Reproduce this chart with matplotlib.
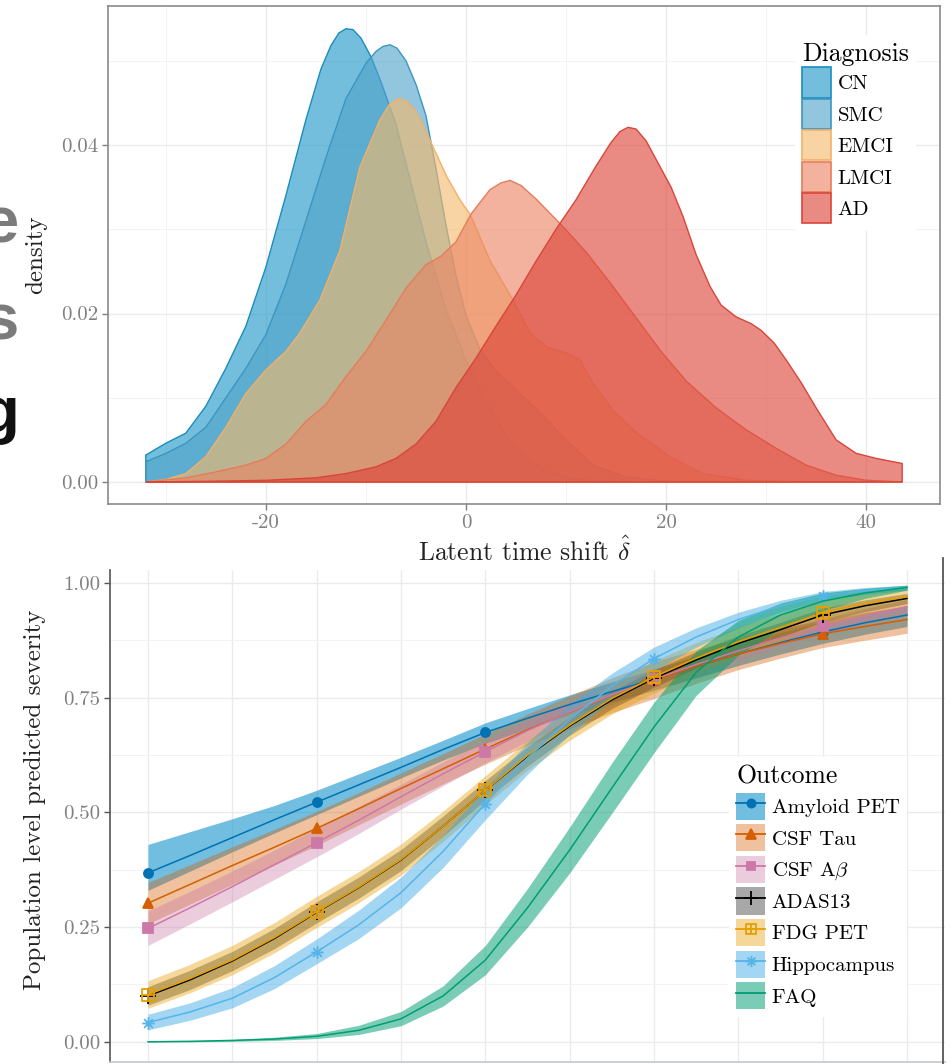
import numpy as np
import matplotlib
matplotlib.use('Agg')
import matplotlib.pyplot as plt
from matplotlib.patches import Patch
from matplotlib.lines import Line2D
from matplotlib.path import Path
from matplotlib.legend_handler import HandlerTuple
from matplotlib.colors import to_rgba

plt.rcParams['font.family'] = 'cmr10'
plt.rcParams['mathtext.fontset'] = 'cm'
plt.rcParams['axes.unicode_minus'] = False

# ---- top panel: density of latent time shift per diagnosis
diagnoses = ['CN', 'SMC', 'EMCI', 'LMCI', 'AD']

cn_x = [-32, -30, -28, -26, -24, -22, -20, -18, -16, -14.5, -13.5, -12.7, -12, -11.3, -10.5, -9.5,
        -8.5, -7, -5.5, -4, -2, 0, 2, 4, 6, 8, 11, 15, 20, 30, 43.6]
cn_d = [0.0032, 0.0046, 0.0058, 0.0090, 0.0135, 0.0185, 0.0255, 0.0340, 0.0430, 0.0490, 0.0518,
        0.0533, 0.0538, 0.0537, 0.0527, 0.0505, 0.0475, 0.0425, 0.0355, 0.0285, 0.0205, 0.0145,
        0.0095, 0.0055, 0.0028, 0.0012, 0.0003, 0.0001, 0.0, 0.0, 0.0]

smc_x = [-32, -30, -28, -26, -24, -22, -20, -18, -16, -14, -12, -10, -9, -8.3, -7.6, -6.9, -6, -5,
         -4, -3, -2, -1, 0, 1.4, 3, 4.7, 7.4, 10, 12.7, 16, 20, 30, 43.6]
smc_d = [0.0024, 0.0034, 0.0046, 0.0065, 0.0100, 0.0135, 0.0175, 0.0235, 0.0310, 0.0385, 0.0455,
         0.0497, 0.0511, 0.0517, 0.0519, 0.0515, 0.0500, 0.0472, 0.0435, 0.0372, 0.0305, 0.0245,
         0.0198, 0.0157, 0.0132, 0.0113, 0.0082, 0.0050, 0.0020, 0.0006, 0.0001, 0.0, 0.0]

emci_x = [-32, -30, -28, -26, -24, -22, -20, -18, -16.6, -14.6, -12.6, -10.6, -8.6, -7.6, -6.8,
          -6.0, -5.2, -4.4, -3.3, -1.9, -0.6, 0.4, 2.4, 4.7, 6.4, 8.1, 10.1, 11.4, 12.7, 14.7, 17.1,
          20.4, 23.7, 28, 35, 43.6]
emci_d = [0.0, 0.0003, 0.0010, 0.0030, 0.0065, 0.0105, 0.0133, 0.0155, 0.0177, 0.0216, 0.0275,
          0.0374, 0.0430, 0.0449, 0.0455, 0.0453, 0.0443, 0.0427, 0.0398, 0.0362, 0.0335, 0.0318,
          0.0263, 0.0216, 0.0177, 0.0160, 0.0153, 0.0145, 0.0117, 0.0085, 0.0058, 0.0030, 0.0010,
          0.0002, 0.0, 0.0]

lmci_x = [-32, -28, -25, -22, -20, -18, -16, -14, -12, -10, -8, -6, -4, -2.5, -1, 0.5, 2.4, 3.5,
          4.4, 5.5, 7, 9.7, 12, 14.5, 17, 19.5, 22, 25, 28, 31, 34, 37, 40, 43.6]
lmci_d = [0.0, 0.0005, 0.0012, 0.0020, 0.0028, 0.0045, 0.0072, 0.0092, 0.0125, 0.0155, 0.0192,
          0.0230, 0.0258, 0.0268, 0.0285, 0.0318, 0.0347, 0.0355, 0.0358, 0.0352, 0.0336, 0.0303,
          0.0273, 0.0235, 0.0195, 0.0155, 0.0120, 0.0088, 0.0062, 0.0040, 0.0020, 0.0008, 0.0002,
          0.0]

ad_x = [-32, -25, -20, -15, -12, -9, -7, -5, -3, -1, 1, 3, 5, 7, 9, 11, 13, 14.5, 15.4, 16.2, 17,
        18, 19, 20.5, 21.7, 23, 24.4, 25.5, 27, 28.5, 29.5, 30.8, 32, 33.5, 35, 37, 39, 41, 43.6]
ad_d = [0.0, 0.0001, 0.0002, 0.0005, 0.0010, 0.0018, 0.0028, 0.0045, 0.0072, 0.0112, 0.0147,
        0.0185, 0.0222, 0.0262, 0.0300, 0.0335, 0.0375, 0.0403, 0.0416, 0.0421, 0.0419, 0.0405,
        0.0383, 0.0350, 0.0315, 0.0270, 0.0232, 0.0210, 0.0196, 0.0188, 0.0180, 0.0165, 0.0145,
        0.0118, 0.0088, 0.0050, 0.0034, 0.0028, 0.0022]

dens_fill = ['#1F96C8', '#4FA3CB', '#F5B96B', '#EA8463', '#DC4238']
dens_edge = ['#1A8DBE', '#3C96C0', '#F2B068', '#E77C5A', '#D8463A']

# ---- bottom panel: population level predicted severity per outcome
outcomes = ['Amyloid PET', 'CSF Tau', r'CSF A$\beta$', 'ADAS13', 'FDG PET', 'Hippocampus', 'FAQ']

sev_x = [-32.0, -27.8, -23.6, -19.4, -15.2, -11.0, -6.8, -2.6, 1.6, 5.8, 10.0, 14.2, 18.4, 22.6,
         26.8, 31.0, 35.2, 39.4, 43.6]

amyloid = [0.368, 0.406, 0.445, 0.484, 0.522, 0.560, 0.598, 0.637, 0.674, 0.705, 0.735, 0.763,
           0.790, 0.818, 0.845, 0.870, 0.893, 0.913, 0.930]
amyloid_lo = [0.330, 0.372, 0.414, 0.455, 0.495, 0.535, 0.575, 0.614, 0.650, 0.682, 0.712, 0.740,
              0.766, 0.793, 0.820, 0.845, 0.868, 0.888, 0.905]
amyloid_hi = [0.430, 0.458, 0.486, 0.515, 0.548, 0.584, 0.620, 0.657, 0.695, 0.726, 0.756, 0.784,
              0.812, 0.840, 0.866, 0.892, 0.915, 0.935, 0.950]

tau = [0.302, 0.343, 0.384, 0.424, 0.465, 0.508, 0.552, 0.595, 0.638, 0.680, 0.718, 0.755, 0.788,
       0.818, 0.845, 0.868, 0.889, 0.905, 0.920]
tau_lo = [0.257, 0.300, 0.343, 0.385, 0.428, 0.473, 0.518, 0.562, 0.605, 0.646, 0.682, 0.717,
          0.748, 0.781, 0.811, 0.836, 0.859, 0.875, 0.890]
tau_hi = [0.347, 0.386, 0.425, 0.463, 0.502, 0.543, 0.586, 0.628, 0.671, 0.714, 0.754, 0.793,
          0.828, 0.855, 0.879, 0.900, 0.919, 0.935, 0.950]

abeta = [0.247, 0.292, 0.338, 0.386, 0.434, 0.483, 0.534, 0.584, 0.632, 0.678, 0.719, 0.756,
         0.790, 0.822, 0.852, 0.880, 0.905, 0.928, 0.948]
abeta_lo = [0.210, 0.257, 0.305, 0.354, 0.403, 0.454, 0.507, 0.558, 0.608, 0.655, 0.697, 0.735,
            0.769, 0.802, 0.833, 0.862, 0.888, 0.912, 0.932]
abeta_hi = [0.285, 0.328, 0.372, 0.418, 0.465, 0.513, 0.561, 0.610, 0.656, 0.701, 0.741, 0.777,
            0.811, 0.842, 0.871, 0.898, 0.922, 0.944, 0.964]

adas = [0.100, 0.135, 0.176, 0.225, 0.282, 0.336, 0.396, 0.470, 0.548, 0.622, 0.688, 0.745,
        0.792, 0.832, 0.868, 0.898, 0.930, 0.950, 0.966]
adas_lo = [0.080, 0.114, 0.155, 0.203, 0.259, 0.313, 0.373, 0.448, 0.527, 0.601, 0.668, 0.726,
           0.773, 0.814, 0.851, 0.882, 0.915, 0.937, 0.955]
adas_hi = [0.120, 0.156, 0.197, 0.247, 0.305, 0.359, 0.419, 0.492, 0.569, 0.643, 0.708, 0.764,
           0.811, 0.850, 0.885, 0.914, 0.945, 0.963, 0.977]

fdg = [0.103, 0.138, 0.178, 0.227, 0.283, 0.337, 0.397, 0.470, 0.548, 0.624, 0.690, 0.748,
       0.795, 0.836, 0.872, 0.903, 0.935, 0.955, 0.970]
fdg_lo = [0.073, 0.107, 0.146, 0.194, 0.249, 0.303, 0.363, 0.437, 0.516, 0.592, 0.657, 0.714,
          0.760, 0.802, 0.840, 0.873, 0.908, 0.930, 0.948]
fdg_hi = [0.133, 0.169, 0.210, 0.260, 0.317, 0.371, 0.431, 0.503, 0.580, 0.656, 0.723, 0.782,
          0.830, 0.870, 0.904, 0.933, 0.962, 0.980, 0.992]

hippo = [0.042, 0.065, 0.095, 0.140, 0.196, 0.255, 0.325, 0.415, 0.519, 0.618, 0.703, 0.775,
         0.835, 0.882, 0.920, 0.950, 0.972, 0.983, 0.990]
hippo_lo = [0.026, 0.047, 0.074, 0.116, 0.170, 0.225, 0.292, 0.380, 0.484, 0.583, 0.670, 0.745,
            0.808, 0.860, 0.902, 0.936, 0.962, 0.975, 0.984]
hippo_hi = [0.060, 0.085, 0.118, 0.166, 0.224, 0.287, 0.359, 0.450, 0.553, 0.652, 0.735, 0.803,
            0.860, 0.902, 0.936, 0.962, 0.981, 0.990, 0.995]

faq = [0.000, 0.001, 0.003, 0.006, 0.012, 0.025, 0.050, 0.100, 0.178, 0.292, 0.418, 0.553, 0.686,
       0.805, 0.882, 0.930, 0.960, 0.978, 0.990]
faq_lo = [0.000, 0.000, 0.001, 0.003, 0.007, 0.016, 0.035, 0.078, 0.146, 0.250, 0.368, 0.498,
          0.630, 0.755, 0.842, 0.900, 0.940, 0.966, 0.984]
faq_hi = [0.001, 0.002, 0.005, 0.010, 0.018, 0.036, 0.066, 0.122, 0.210, 0.334, 0.468, 0.608,
          0.740, 0.852, 0.918, 0.956, 0.978, 0.988, 0.995]

sev_colors = ['#0072B2', '#D55E00', '#CC79A7', '#000000', '#E69F00', '#56B4E9', '#009E73']
band_colors = ['#0A90CC', '#D55E00', '#CC79A7', '#000000', '#E69F00', '#3FAAE4', '#009E73']
band_alphas = [0.58, 0.38, 0.38, 0.34, 0.40, 0.48, 0.52]

# custom markers: square with plus, and 8-armed asterisk
sq_plus = Path([(-1, -1), (1, -1), (1, 1), (-1, 1), (-1, -1), (0, -1), (0, 1), (-1, 0), (1, 0)],
               [1, 2, 2, 2, 79, 1, 2, 1, 2])
asterisk = Path([(-1, 0), (1, 0), (0, -1), (0, 1), (-.7, -.7), (.7, .7), (-.7, .7), (.7, -.7)],
                [1, 2, 1, 2, 1, 2, 1, 2])
sev_markers = ['o', '^', 's', '+', sq_plus, asterisk, None]
sev_msize = [6.5, 7.5, 6.5, 11, 8, 9, 0]

W, H = 953, 1064
fig = plt.figure(figsize=(W / 100, H / 100), dpi=100)
tick_gray = '#7f7f7f'

# ================= top panel
ax1 = fig.add_axes([108 / W, 1 - 504 / H, 832 / W, 498 / H])
dens = [(cn_x, cn_d), (smc_x, smc_d), (emci_x, emci_d), (lmci_x, lmci_d), (ad_x, ad_d)]
for (xs, ds), fc, ec in zip(dens, dens_fill, dens_edge):
    px = np.r_[xs[0], xs, xs[-1]]
    py = np.r_[0, ds, 0]
    ax1.fill(px, py, facecolor=to_rgba(fc, 0.62), edgecolor=ec, lw=1.0, zorder=2)

ax1.set_xlim(-35.78, 47.38)
ax1.set_ylim(-0.00261, 0.0565)
ax1.set_xticks([-20, 0, 20, 40])
ax1.set_xticklabels(['-20', '0', '20', '40'])
ax1.set_xticks([-30, -10, 10, 30], minor=True)
ax1.set_yticks([0, 0.02, 0.04])
ax1.set_yticklabels(['0.00', '0.02', '0.04'])
ax1.set_yticks([0.01, 0.03, 0.05], minor=True)
ax1.grid(which='major', color='#EBEBEB', lw=1.0)
ax1.grid(which='minor', color='#F3F3F3', lw=0.7)
ax1.set_axisbelow(True)
ax1.tick_params(which='major', length=4, width=1, color=tick_gray, labelsize=15,
                labelcolor='#808080', pad=3)
ax1.tick_params(which='minor', length=0)
for s in ax1.spines.values():
    s.set_color('#8a8a8a')
    s.set_linewidth(1.2)

fig.text(36 / W, 1 - 255 / H, 'density', rotation=90, ha='center', va='center', fontsize=18,
         color='#222222')
fig.text(524 / W, 1 - 561 / H, r'Latent time shift $\hat{\delta}$', ha='center', va='baseline',
         fontsize=18.5, color='#222222')

leg1_handles = [Patch(facecolor=to_rgba(fc, 0.62), edgecolor=ec, lw=1.2)
                for fc, ec in zip(dens_fill, dens_edge)]
leg1 = ax1.legend(leg1_handles, diagnoses, title='Diagnosis', loc='upper left',
                  bbox_to_anchor=(795 / W, 1 - 35 / H), bbox_transform=fig.transFigure,
                  borderaxespad=0, fontsize=15, title_fontsize=18.5, frameon=True, fancybox=False,
                  facecolor='white', edgecolor='none', framealpha=1, borderpad=0.35,
                  handlelength=1.4, handleheight=1.84, labelspacing=0.07, handletextpad=0.3,
                  alignment='left')

# ================= bottom panel
ax2 = fig.add_axes([110 / W, 1 - 1062 / H, 835 / W, 492 / H])
bands = [(amyloid_lo, amyloid_hi), (tau_lo, tau_hi), (abeta_lo, abeta_hi), (adas_lo, adas_hi),
         (fdg_lo, fdg_hi), (hippo_lo, hippo_hi), (faq_lo, faq_hi)]
means = [amyloid, tau, abeta, adas, fdg, hippo, faq]
for (lo, hi), bc, ba in zip(bands, band_colors, band_alphas):
    ax2.fill_between(sev_x, lo, hi, color=to_rgba(bc, ba), lw=0, zorder=2)
for m, c, mk, ms in zip(means, sev_colors, sev_markers, sev_msize):
    face = 'none' if mk is sq_plus else c
    ax2.plot(sev_x, m, color=c, lw=1.1, marker=mk, markevery=4, ms=ms, mfc=face, mec=c,
             mew=1.3, zorder=3)

ax2.set_xlim(-35.78, 47.38)
ax2.set_ylim(-0.044, 1.028)
ax2.set_xticks(sev_x[::2])
ax2.set_xticklabels([])
ax2.set_yticks([0, 0.25, 0.5, 0.75, 1.0])
ax2.set_yticklabels(['0.00', '0.25', '0.50', '0.75', '1.00'])
ax2.set_yticks([0.125, 0.375, 0.625, 0.875], minor=True)
ax2.grid(which='major', color='#EBEBEB', lw=1.0)
ax2.grid(which='minor', color='#F3F3F3', lw=0.7)
ax2.set_axisbelow(True)
ax2.tick_params(axis='y', which='major', length=4, width=1, color='#555555', labelsize=15,
                labelcolor='#808080', pad=3)
ax2.tick_params(axis='x', length=0)
ax2.tick_params(which='minor', length=0)
ax2.spines['top'].set_visible(False)
ax2.spines['right'].set_visible(False)
ax2.spines['left'].set_color('#555555')
ax2.spines['left'].set_linewidth(1.2)
ax2.spines['bottom'].set_color('#c4c8cc')
ax2.spines['bottom'].set_linewidth(1.2)
fig.add_artist(Line2D([943 / W, 943 / W], [1 - 558 / H, 0], color='#555555', lw=1.3,
                      transform=fig.transFigure))

fig.text(35 / W, 1 - 800 / H, 'Population level predicted severity', rotation=90, ha='center',
         va='center', fontsize=18, color='#222222')

leg2_handles = []
for c, bc, ba, mk, ms in zip(sev_colors, band_colors, band_alphas, sev_markers, sev_msize):
    face = 'none' if mk is sq_plus else c
    band = Patch(facecolor=to_rgba(bc, ba), edgecolor='none')
    line = Line2D([], [], color=c, lw=1.3, marker=mk, ms=ms * 0.9, mfc=face, mec=c, mew=1.3)
    leg2_handles.append((band, line))
leg2 = ax2.legend(leg2_handles, outcomes, title='Outcome', loc='upper left',
                  bbox_to_anchor=(729 / W, 1 - 757 / H), bbox_transform=fig.transFigure,
                  handler_map={tuple: HandlerTuple(ndivide=1)}, numpoints=1, borderaxespad=0,
                  fontsize=15, title_fontsize=18.5, frameon=True, fancybox=False,
                  facecolor='white', edgecolor='none', framealpha=1, borderpad=0.35,
                  handlelength=1.4, handleheight=1.62, labelspacing=0.22, handletextpad=0.3,
                  alignment='left')
leg2.set_zorder(5)

# cut-off slide text at the left edge
fig.text(19 / W, 1 - 242 / H, 'e', ha='right', va='baseline', fontsize=47, fontweight='bold',
         color='#7b7b7b', family='Liberation Sans')
fig.text(19 / W, 1 - 340 / H, 's', ha='right', va='baseline', fontsize=47, fontweight='bold',
         color='#7b7b7b', family='Liberation Sans')
fig.text(19 / W, 1 - 432 / H, 'g', ha='right', va='baseline', fontsize=47, fontweight='bold',
         color='#111111', family='Liberation Sans')

fig.savefig('out.png', dpi=100, facecolor='white')
